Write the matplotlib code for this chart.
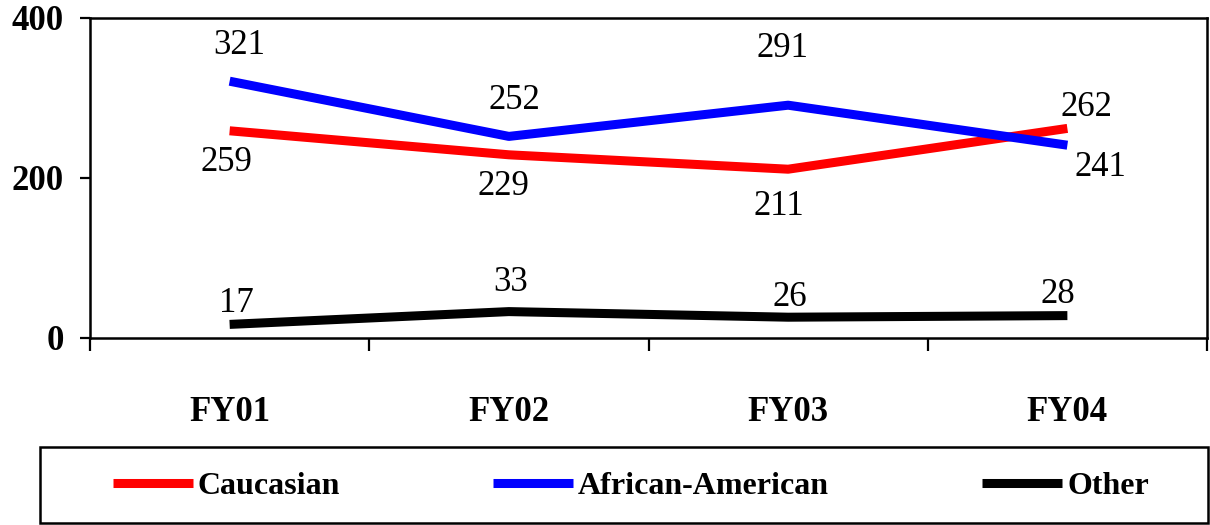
import matplotlib
matplotlib.use("Agg")
import matplotlib.pyplot as plt
from matplotlib.patches import Rectangle

categories = ["FY01", "FY02", "FY03", "FY04"]
caucasian = [259, 229, 211, 262]
african_american = [321, 252, 291, 241]
other = [17, 33, 26, 28]
yticks = [0, 200, 400]

plt.rcParams['font.family'] = ['Liberation Serif', 'DejaVu Serif']

fig = plt.figure(figsize=(12.1, 5.25), dpi=100)
ax = fig.add_axes([90/1210, (525-338)/525, 1117/1210, 320/525])

x = list(range(len(categories)))
series = [
    ("Caucasian", caucasian, "#ff0000",
     [(-2, 23), (-4, 23), (-7, 27), (14, -15)]),
    ("African-American", african_american, "#0000ff",
     [(7, -26), (4, -26), (-4, -41), (24, 16)]),
    ("Other", other, "#000000",
     [(5, -15), (1, -21), (1, -14), (-7, -15)]),
]

for name, vals, col, offs in series:
    ax.plot(x, vals, color=col, lw=6.5, solid_capstyle='butt', label=name)
    for xi, v, (dx, dy) in zip(x, vals, offs):
        ax.annotate(str(v), (xi, v), xytext=(dx, -dy), textcoords='offset points',
                    ha='center', va='center', fontsize=25, color='black')

ax.set_xlim(-0.5, 3.5)
ax.set_ylim(0, 400)
ax.set_yticks(yticks)
ax.set_yticklabels([str(t) for t in yticks], fontsize=25, fontweight='bold')
ax.set_xticks(x)
ax.set_xticklabels(categories, fontsize=25, fontweight='bold')
ax.set_xticks([-0.5, 0.5, 1.5, 2.5, 3.5], minor=True)
ax.tick_params(axis='x', which='major', length=0, pad=42)
ax.tick_params(axis='x', which='minor', length=9, width=1.6, direction='out')
ax.tick_params(axis='y', which='major', length=7, width=1.6, direction='out', pad=12)
for s in ax.spines.values():
    s.set_linewidth(1.8)

fig.patches.append(Rectangle((40/1210, 2/525), 1168/1210, 76/525,
                             transform=fig.transFigure, fill=False,
                             edgecolor='black', lw=1.8))

handles, labels = ax.get_legend_handles_labels()
fig.legend(handles, labels, loc='center', bbox_to_anchor=(631/1210, 39/525),
           ncol=3, frameon=False, handlelength=2.5, handletextpad=0.15,
           columnspacing=4.8, prop={'family': 'Liberation Serif', 'weight': 'bold', 'size': 23})

fig.savefig("out.png", dpi=100)
